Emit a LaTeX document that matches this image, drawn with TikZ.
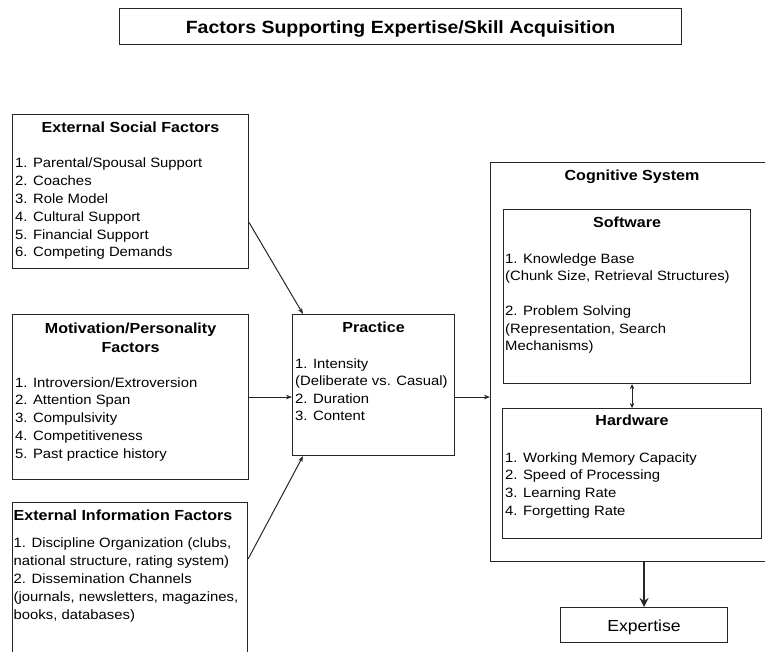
\documentclass[tikz,border=0pt]{standalone}
\usepackage{fontspec}
\usepackage{tikz}
\usetikzlibrary{calc,arrows.meta,positioning}
\newfontfamily\diagfont[FakeStretch=1.1]{Liberation Sans}
\tikzset{
  box/.style={draw=black!85,line width=1.1pt,anchor=north west,inner sep=0pt},
  head/.style={anchor=base,inner sep=0pt,font=\diagfont\bfseries\fontsize{14.6}{17}\selectfont},
  headleft/.style={head,anchor=base west},
  item/.style={anchor=base west,inner sep=0pt,font=\diagfont\fontsize{13.5}{16}\selectfont},
  link/.style={black!85,line width=1pt,-{Stealth[length=6pt,width=4.5pt]}}
}

\begin{document}
\begin{tikzpicture}[x=1pt,y=-1pt]
\useasboundingbox (0,0) rectangle (765,652);
\clip (0,0) rectangle (765,652);
% boxes
\node[box,minimum width=562pt,minimum height=36pt] (title) at (119,8) {};
\node[box,minimum width=236pt,minimum height=154pt] (social) at (12,114) {};
\node[box,minimum width=236pt,minimum height=165pt] (motiv) at (12,314) {};
\node[box,minimum width=235pt,minimum height=220pt] (info) at (12,502) {};
\node[box,minimum width=162pt,minimum height=141pt] (practice) at (292,314) {};
\node[box,minimum width=278pt,minimum height=399pt] (cog) at (490,162) {};
\node[box,minimum width=247pt,minimum height=174pt] (soft) at (503,209) {};
\node[box,minimum width=259pt,minimum height=130pt] (hard) at (502,408) {};
\node[box,minimum width=167pt,minimum height=35pt] (expert) at (560,607) {};
% headings
\node[head,font=\diagfont\bfseries\fontsize{17.7}{20}\selectfont] (titletext) at ($(title.center)+(0,6.5)$) {Factors Supporting Expertise/Skill Acquisition};
\node[head] (socialhead) at ($(social.north)+(0,18.5)$) {External Social Factors};
\node[head] (motivhead) at ($(motiv.north)+(0,19.5)$) {Motivation/Personality};
\node[head] (motivhead2) at ($(motiv.north)+(0,38.5)$) {Factors};
\node[headleft] (infohead) at ($(info.north west)+(1.5,18.5)$) {External Information Factors};
\node[head] (practicehead) at ($(practice.north)+(0,18.5)$) {Practice};
\node[head] (coghead) at ($(cog.north west)+(142,18.5)$) {Cognitive System};
\node[head] (softhead) at ($(soft.north)+(0,18.5)$) {Software};
\node[head] (hardhead) at ($(hard.north)+(0,17.5)$) {Hardware};
\node[anchor=base,inner sep=0pt,font=\diagfont\fontsize{16}{18}\selectfont] (experttext) at ($(expert.center)+(0,6)$) {Expertise};
% lists
\foreach \t [count=\i from 0] in {1. Parental/Spousal Support,2. Coaches,3. Role Model,4. Cultural Support,5. Financial Support,6. Competing Demands}
  \node[item] (soc\i) at ($(social.north west)+(3,54+17.8*\i)$) {\t};
\foreach \t [count=\i from 0] in {1. Introversion/Extroversion,2. Attention Span,3. Compulsivity,4. Competitiveness,5. Past practice history}
  \node[item] (mot\i) at ($(motiv.north west)+(3,73+17.8*\i)$) {\t};
\foreach \t [count=\i from 0] in {{1. Discipline Organization (clubs,},{national structure, rating system)},2. Dissemination Channels,{(journals, newsletters, magazines,},{books, databases)}}
  \node[item] (inf\i) at ($(info.north west)+(1.5,45+18*\i)$) {\t};
\foreach \t [count=\i from 0] in {1. Intensity,(Deliberate vs. Casual),2. Duration,3. Content}
  \node[item] (pra\i) at ($(practice.north west)+(3,54+17.5*\i)$) {\t};
\foreach \t [count=\i from 0] in {1. Knowledge Base,{(Chunk Size, Retrieval Structures)},{},2. Problem Solving,{(Representation, Search},Mechanisms)}
  \node[item] (sof\i) at ($(soft.north west)+(2,54+17.5*\i)$) {\t};
\foreach \t [count=\i from 0] in {1. Working Memory Capacity,2. Speed of Processing,3. Learning Rate,4. Forgetting Rate}
  \node[item] (har\i) at ($(hard.north west)+(3,54+17.8*\i)$) {\t};
% connectors
\draw[link] ($(social.north east)!0.7!(social.south east)$) -- ($(practice.north west)+(11,0)$);
\draw[link] (motiv.east) -- (motiv.east -| practice.west);
\draw[link] ($(info.north east)+(0,57)$) -- ($(practice.south west)+(11,0)$);
\draw[link] (motiv.east -| practice.east) -- (motiv.east -| cog.west);
\draw[link,{Stealth[length=5pt,width=4.5pt]}-{Stealth[length=5pt,width=4.5pt]}] (hard.north |- soft.south) -- (hard.north);
\draw[black!85,line width=2.4pt,-{Stealth[length=9pt,width=9pt]}] (expert.north |- cog.south) -- (expert.north);
\end{tikzpicture}
\end{document}
